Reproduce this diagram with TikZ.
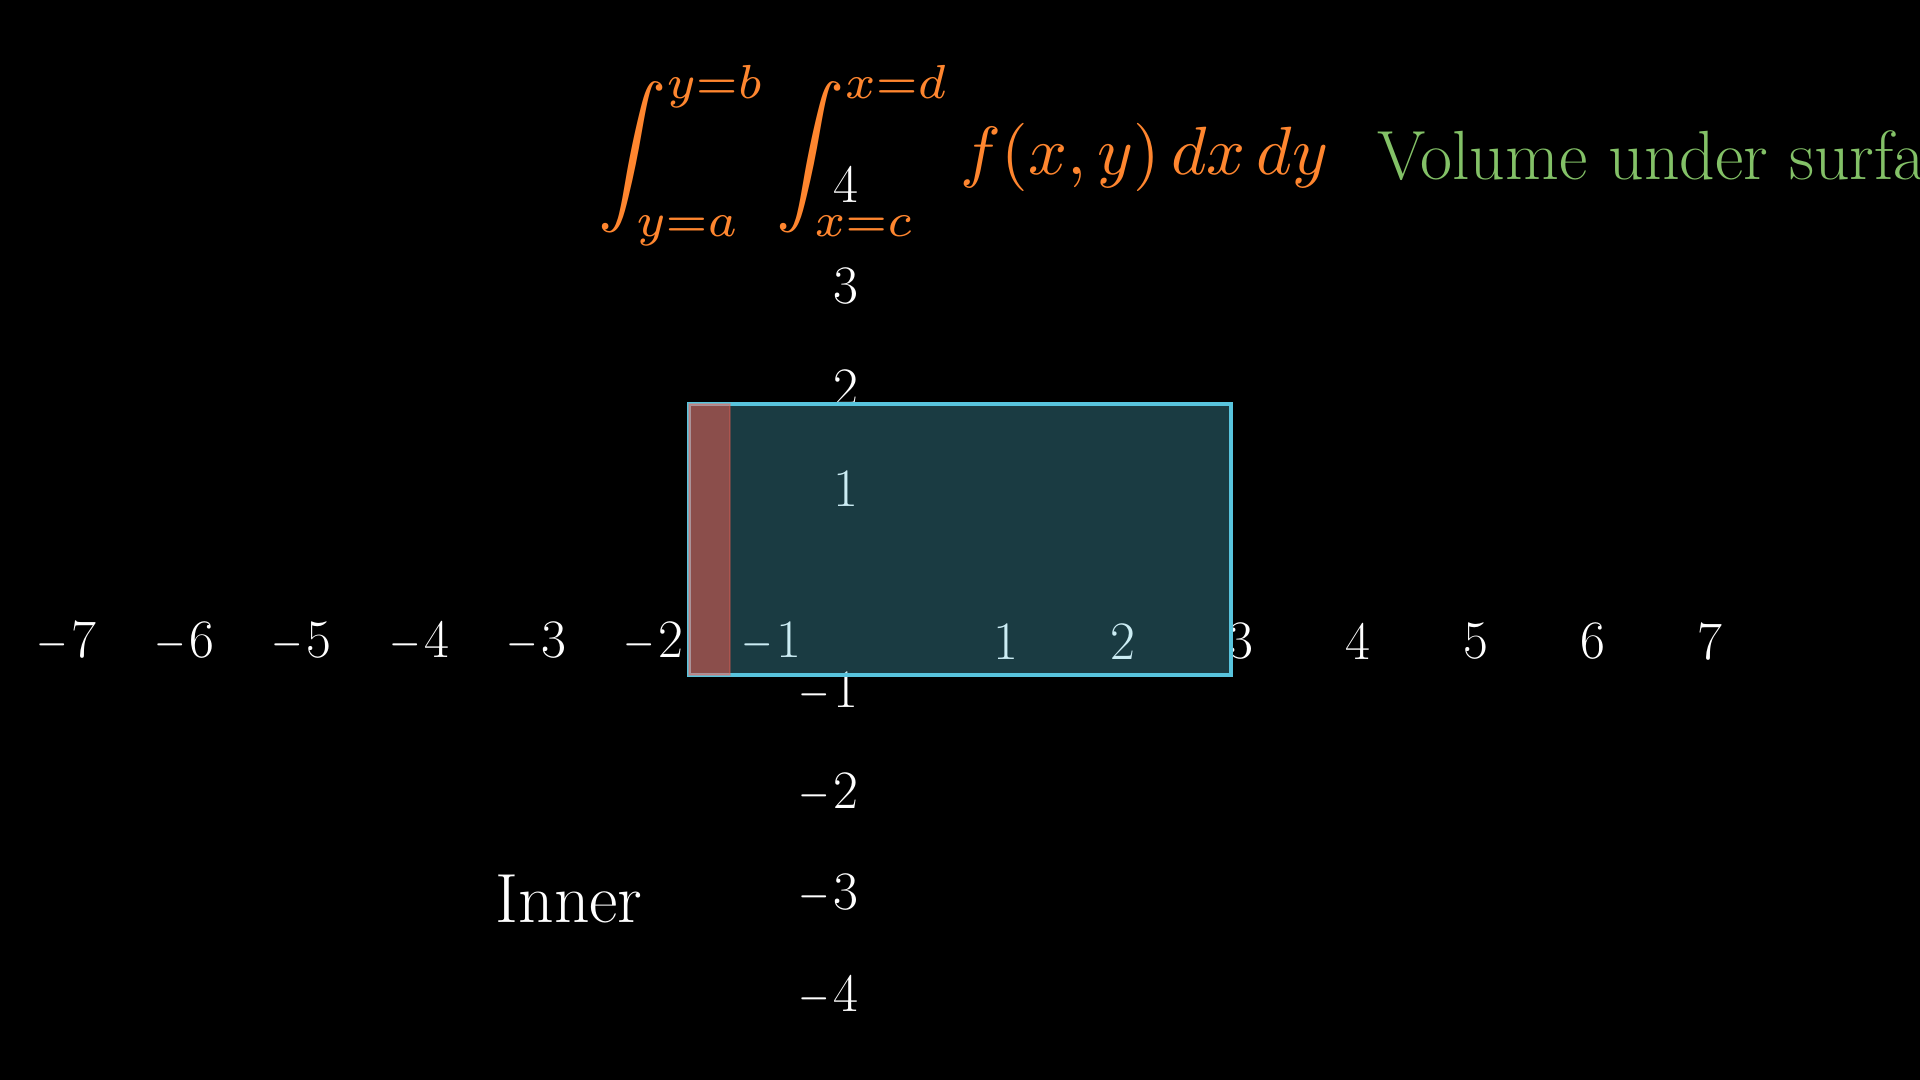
\documentclass[tikz,border=0pt]{standalone}
\usepackage{amsmath}
\usepackage{graphicx}
\usepackage{tikz}
\usetikzlibrary{positioning}
\definecolor{mblue}{HTML}{58C4DD}
\definecolor{mred}{HTML}{FC6255}
\definecolor{morange}{HTML}{FF862F}
\definecolor{mgreen}{HTML}{83C167}
\newcommand{\mns}{\scalebox{0.8}[1]{$-$}\kern1pt}
\tikzset{
    xnum/.style = {inner sep=0pt, text=white, font=\fontsize{15.4}{18}\selectfont},
    ynum/.style = {inner sep=0pt, text=white, anchor=east, font=\fontsize{15.4}{18}\selectfont},
    region/.style = {draw=mblue, line width=0.9pt, fill=mblue, fill opacity=0.3},
    strip/.style = {draw=mred, draw opacity=0.3, line width=0.5pt, fill=mred, fill opacity=0.5},
    formula/.style = {inner sep=0pt, anchor=base west, text=morange, scale=1.94, font=\fontsize{10}{12}\selectfont},
    caption/.style = {inner sep=0pt, anchor=base west, font=\fontsize{19.8}{23}\selectfont}
}

\begin{document}
\begin{tikzpicture}[x=0.01cm, y=-0.01cm]
  \fill[black] (0,0) rectangle (1920,1080);
  \useasboundingbox (0,0) rectangle (1920,1080);
  \clip (0,0) rectangle (1920,1080);

\node[xnum] (xm7) at (66.8,641.5) {\mns7};
\node[xnum] (xm6) at (184.2,641.5) {\mns6};
\node[xnum] (xm5) at (301.6,641.5) {\mns5};
\node[xnum] (xm4) at (419.0,641.5) {\mns4};
\node[xnum] (xm3) at (536.4,641.5) {\mns3};
\node[xnum] (xm2) at (653.8,641.5) {\mns2};
\node[xnum] (xm1) at (771.2,641.5) {\mns1};
\node[xnum] (xp1) at (1006.0,641.5) {1};
\node[xnum] (xp2) at (1123.4,641.5) {2};
\node[xnum] (xp3) at (1240.8,641.5) {3};
\node[xnum] (xp4) at (1358.2,641.5) {4};
\node[xnum] (xp5) at (1475.6,641.5) {5};
\node[xnum] (xp6) at (1593.0,641.5) {6};
\node[xnum] (xp7) at (1710.4,641.5) {7};

\node[ynum] (yp4) at (859,184.8) {4};
\node[ynum] (yp3) at (859,286.1) {3};
\node[ynum] (yp2) at (859,387.4) {2};
\node[ynum] (yp1) at (859,488.7) {1};
\node[ynum] (ym1) at (859,691.3) {\mns1};
\node[ynum] (ym2) at (859,792.6) {\mns2};
\node[ynum] (ym3) at (859,893.9) {\mns3};
\node[ynum] (ym4) at (859,995.2) {\mns4};

  \node[formula] (integral) at (597,174.5)
    {$\displaystyle\int_{y=a}^{y=b}\int_{x=c}^{x=d} f(x,y)\,dx\,dy$};
  \node[caption, text=mgreen] (volume) at (1377,180) {Volume under surface};
  \node[caption, text=white] (inner) at (495,923) {Inner};

  \draw[region] (689,404) rectangle (1231,675);
  \draw[strip] (689,404) rectangle (730,675);

 \end{tikzpicture}
\end{document}
